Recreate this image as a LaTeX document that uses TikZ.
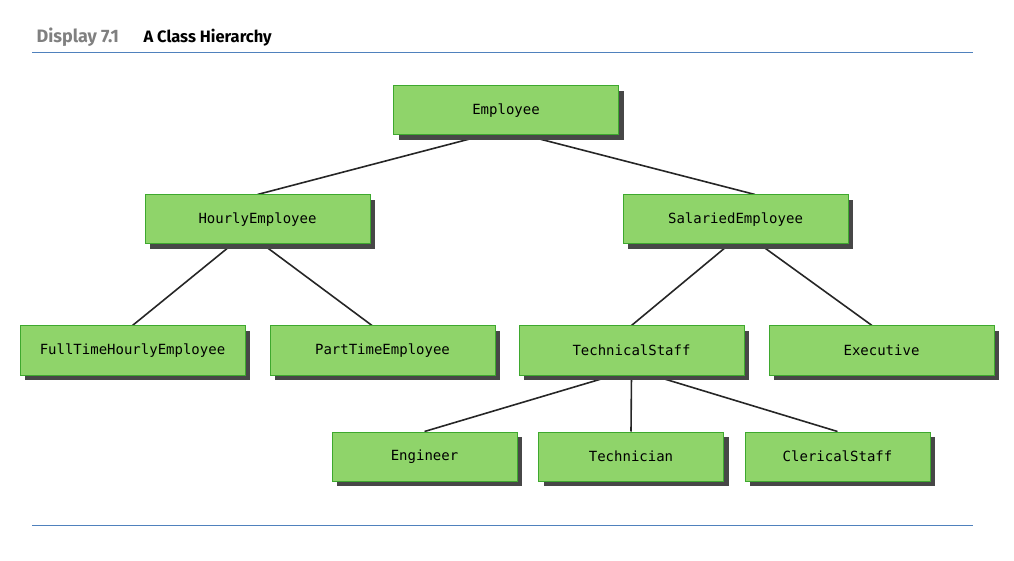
\documentclass[tikz,border=0pt]{standalone}
\usepackage{fontspec}
\setmonofont{DejaVu Sans Mono}
\newfontfamily\headfont{Fira Sans}
\usepackage{xcolor}
\usepackage{tikz}
\usetikzlibrary{positioning, shadows, backgrounds}

\definecolor{boxgreen}{RGB}{143,212,106}
\definecolor{boxedge}{RGB}{62,168,46}
\definecolor{rulebl}{RGB}{79,129,189}

\begin{document}
\begin{tikzpicture}[x=1pt,y=1pt,node distance=24pt]
			\tikzstyle{classbox}=[draw=boxedge,fill=boxgreen,line width=1pt,minimum width=225pt,minimum height=49pt,inner sep=0pt,font=\ttfamily\fontsize{14}{16}\selectfont,drop shadow={shadow xshift=5pt,shadow yshift=-5pt,fill=black!72,opacity=1}]
			\tikzstyle{leafbox}=[classbox,minimum width=185pt]
			\tikzstyle{link}=[draw=black!85,line width=1.6pt]
			\useasboundingbox (0,0) rectangle (1014,560);
			
			\node[anchor=base west,text=black!50,font=\headfont\bfseries\fontsize{18}{20}\selectfont] (disp) at (33,517) {Display 7.1};
			\node[anchor=base west,font=\headfont\bfseries\fontsize{16.5}{18}\selectfont] (title) at (140,517) {A Class Hierarchy};
			\draw[rulebl,line width=1pt] (32,507) -- (973,507);
			\draw[rulebl,line width=1pt] (32,35) -- (973,35);
			
			\node[classbox] (Emp) at (506,449.5) {Employee};
			\node[classbox] (Hourly) at (257.5,340.5) {HourlyEmployee};
			\node[classbox] (Salaried) at (735.5,340.5) {SalariedEmployee};
			\node[classbox] (FullTime) at (132.5,209.5) {FullTimeHourlyEmployee};
			\node[classbox] (PartTime) [right=of FullTime] {PartTimeEmployee};
			\node[classbox] (Tech) [right=23pt of PartTime] {TechnicalStaff};
			\node[classbox] (Exec) [right=of Tech] {Executive};
			\node[leafbox] (Eng) at (424.5,103.5) {Engineer};
			\node[leafbox] (Techn) [right=20.5pt of Eng] {Technician};
			\node[leafbox] (Cler) [right=20.5pt of Techn] {ClericalStaff};
			
			\begin{scope}[on background layer]
			\path[every edge/.style={link}] ([xshift=-23pt]Emp.south) edge (Hourly.north)
			([xshift=20pt]Emp.south) edge ([xshift=19.5pt]Salaried.north)
			([xshift=-25.5pt]Hourly.south) edge (FullTime.north)
			([xshift=5.5pt]Hourly.south) edge ([xshift=-10.5pt]PartTime.north)
			([xshift=-6.5pt]Salaried.south) edge (Tech.north)
			([xshift=24.5pt]Salaried.south) edge ([xshift=-9.5pt]Exec.north)
			([xshift=-18.5pt]Tech.south) edge (Eng.north)
			(Tech.south) edge (Techn.north)
			([xshift=21.5pt]Tech.south) edge (Cler.north);
			\end{scope}
		\end{tikzpicture}
\end{document}
